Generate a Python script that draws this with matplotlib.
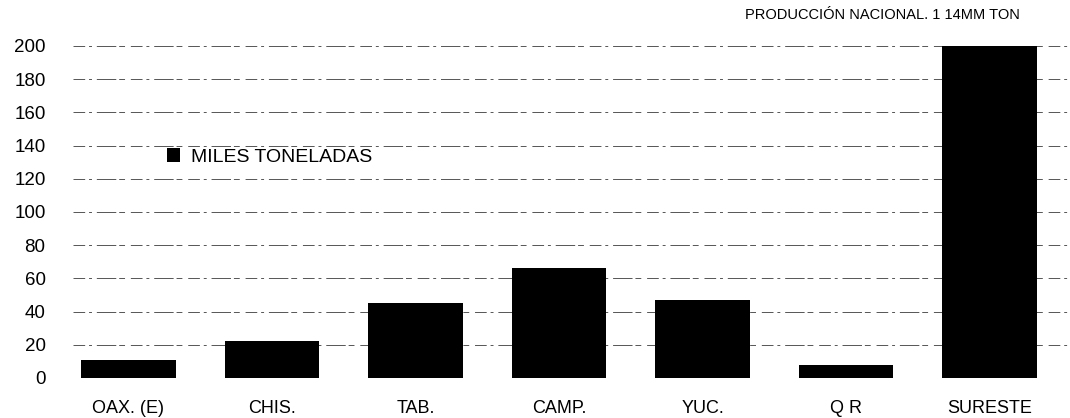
import matplotlib
matplotlib.use("Agg")
import matplotlib.pyplot as plt
from matplotlib.patches import Patch

categories = ["OAX. (E)", "CHIS.", "TAB.", "CAMP.", "YUC.", "Q R", "SURESTE"]
miles_toneladas = [11, 22, 45, 66, 47, 8, 200]
yticks = [0, 20, 40, 60, 80, 100, 120, 140, 160, 180, 200]

plt.rcParams["font.family"] = ["Liberation Sans", "DejaVu Sans"]

W, H = 1070, 418
fig = plt.figure(figsize=(W / 100, H / 100), dpi=100)
ax = fig.add_axes([58 / W, 40 / H, (W - 58) / W, 332 / H])

x = range(len(categories))
ax.bar(x, miles_toneladas, width=0.66, color="black", zorder=3)

ax.set_xlim(-0.49, 6.56)
ax.set_ylim(0, 200)
ax.set_yticks(yticks)
ax.set_xticks(list(x))
ax.set_xticklabels(categories, fontsize=13)
ax.tick_params(axis="both", length=0, labelsize=13.5)
ax.tick_params(axis="y", pad=9)
ax.tick_params(axis="x", pad=16, labelsize=13)

for y in yticks:
    ax.axhline(y, xmin=0.015, color="#555555", lw=0.7,
               ls=(0, (12, 4, 3, 5, 20, 3, 6, 6)), zorder=1)

for s in ax.spines.values():
    s.set_visible(False)

ax.legend(handles=[Patch(facecolor="black", label="MILES TONELADAS")],
          loc="upper left", bbox_to_anchor=(0.09, 0.745), frameon=False,
          fontsize=14, handlelength=0.7, handleheight=0.7, handletextpad=0.55)

fig.text(1020 / W, 1 - 15 / H, "PRODUCCIÓN NACIONAL. 1 14MM TON",
         ha="right", va="center", fontsize=10.5)

fig.savefig("out.png", dpi=100)
